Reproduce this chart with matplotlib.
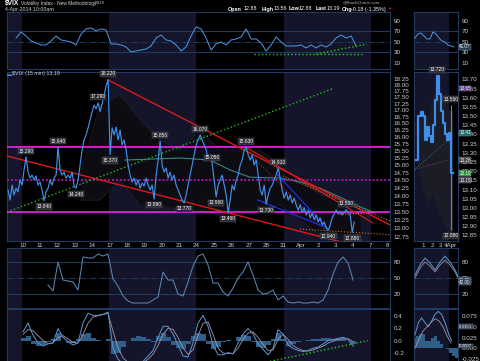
import numpy as np
import matplotlib
matplotlib.use('Agg')
import matplotlib.pyplot as plt
import matplotlib.transforms as mtransforms
from matplotlib.ticker import NullLocator

plt.rcParams['font.family'] = ['Liberation Sans', 'DejaVu Sans']

# ---------------- data ----------------
# 15 min closes, one sample every BAR_STEP trading days starting at BAR_START
BAR_START = -0.83
BAR_STEP = 0.115
price = [14.18, 13.86, 14.34, 14.02, 14.24, 14.12, 14.51, 14.34, 14.84, 15.29,
         14.77, 14.57, 14.67, 14.51, 14.64, 14.34, 14.44, 14.18, 13.84, 14.12,
         14.24, 14.51, 14.34, 14.57, 14.67, 15.64, 14.84, 14.67, 14.77, 14.57,
         14.67, 14.57, 14.77, 14.31, 14.24, 14.51, 15.01, 15.53, 15.89, 16.07,
         16.33, 16.63, 16.93, 17.20, 17.05, 17.29, 16.95, 17.25, 17.60, 17.95,
         18.22, 15.37, 16.33, 16.07, 16.36, 15.89, 16.25, 15.71, 15.89, 15.53,
         15.01, 14.67, 14.44, 14.57, 14.34, 14.51, 14.24, 14.41, 14.31, 14.57,
         14.34, 14.18, 14.34, 13.89, 14.67, 15.18, 15.85, 15.01, 14.77, 14.91,
         14.57, 14.77, 14.51, 14.67, 14.34, 14.18, 14.02, 13.86, 13.77, 14.02,
         14.34, 14.67, 15.01, 15.36, 15.71, 15.89, 16.07, 15.89, 15.71, 15.53,
         15.18, 15.36, 15.05, 14.51, 13.96, 14.34, 14.51, 14.67, 14.34, 14.02,
         13.46, 13.86, 14.34, 14.18, 14.51, 14.67, 15.01, 15.18, 15.53, 15.63,
         15.36, 15.18, 15.36, 15.01, 15.18, 14.67, 14.18, 14.02, 14.34, 13.73,
         14.02, 14.24, 14.34, 14.51, 14.67, 14.91, 14.57, 14.18, 13.92, 14.12,
         13.86, 14.02, 13.77, 13.92, 13.71, 13.55, 13.71, 13.49, 13.62, 13.40,
         13.55, 13.31, 13.46, 13.25, 13.40, 13.19, 13.31, 13.10, 13.19, 13.01,
         12.94, 13.10, 13.31, 13.43, 13.55, 13.43, 13.50, 13.40, 13.48, 13.56,
         13.45, 13.40, 12.88, 13.19]
# labelled highs (+1) / lows (-1)
ext_idx = [9, 18, 25, 34, 45, 50, 51, 73, 76, 88, 96, 102, 104, 110, 119, 129, 135, 160, 169, 172]
ext_dir = [1, -1, 1, -1, 1, 1, -1, -1, 1, -1, 1, 1, -1, -1, 1, -1, 1, -1, 1, -1]

# moving average and band (coarse)
ma_days = [5.89, 9.05, 10.78, 11.93, 13.08, 14.80, 15.95, 17.10, 18.25, 19.40, 20.26]
ma_vals = [15.18, 15.25, 15.18, 14.84, 14.60, 14.57, 14.44, 14.24, 13.95, 13.65, 13.46]
band_days = [3.30, 4.45, 5.60, 6.75, 7.90, 9.05, 10.20, 11.35, 12.50, 13.65, 14.80, 15.95, 17.10, 18.25, 19.40]
band_up = [14.67, 17.20, 17.60, 16.63, 15.89, 15.53, 16.25, 15.53, 15.53, 15.53, 15.01, 14.51, 14.02, 13.86, 13.71]
band_lo = [13.86, 13.86, 14.51, 13.71, 13.71, 13.55, 13.55, 13.40, 13.55, 13.55, 13.71, 13.25, 12.81, 12.81, 12.81]

# trend lines: (day0, price0, day1, price1, colour, style, width)
trend_lines = [
    (4.91, 18.21, 21.12, 13.10, '#e01818', '-', 1.0),
    (-0.89, 15.32, 20.55, 12.32, '#e01818', '-', 1.0),
    (12.84, 15.63, 20.14, 13.16, '#e01818', '-', 0.8),
    (13.36, 15.22, 17.96, 12.66, '#c01818', ':', 0.8),
    (14.63, 14.70, 17.50, 13.01, '#2030e0', '-', 0.9),
    (13.53, 13.86, 17.50, 13.01, '#2030e0', '-', 0.9),
    (14.97, 14.64, 21.12, 13.22, '#c87020', ':', 0.8),
    (15.95, 12.98, 21.12, 12.81, '#c87020', ':', 0.8),
    (18.25, 13.43, 20.09, 13.46, '#b0b0b0', ':', 0.7),
    (-0.89, 13.49, 17.79, 17.84, '#20c020', ':', 1.0),
]
magenta_solid = [15.62, 13.50]
magenta_dotted = [14.50]

day_labels = ['10', '11', '12', '13', '14', '17', '18', '19', '20', '21', '24',
              '25', '26', '27', '28', '31', 'Apr', '2', '3', '4', '7', '8']
week_shade = [(-1, 0), (5, 10), (15, 20)]
price_ticks = [12.75, 13.00, 13.25, 13.50, 13.75, 14.00, 14.25, 14.50, 14.75,
               15.00, 15.25, 15.50, 15.75, 16.00, 16.25, 16.50, 16.75, 17.00,
               17.25, 17.50, 17.75, 18.00, 18.25]

# upper RSI
RSI_START, RSI_STEP = -0.37, 0.2874
rsi = [57.6, 69.0, 61.4, 51.9, 48.1, 44.3, 44.3, 51.9, 61.4, 53.8, 51.9, 50.0,
       44.3, 65.2, 74.8, 76.7, 71.0, 74.8, 72.9, 46.2, 46.2, 44.3, 40.5, 31.0,
       32.9, 34.8, 36.7, 42.4, 57.6, 63.3, 53.8, 51.9, 44.3, 32.9, 40.5, 61.4,
       78.6, 74.8, 57.6, 34.8, 46.2, 50.0, 44.3, 53.8, 55.7, 59.5, 74.8, 55.7,
       55.7, 48.1, 32.9, 44.3, 59.5, 50.0, 42.4, 42.4, 42.4, 44.3, 38.6, 44.3,
       38.6, 44.3, 40.5, 46.2, 57.6, 63.3, 57.6, 61.4, 42.4]
rsi_green = [(13.3, 27, 19.6, 27), (16.87, 27, 19.8, 46)]
rsi_ticks = [10, 30, 50, 70, 90]

# lower oscillator
STO_START, STO_STEP = 1.466, 0.2874
sto = [36.5, 24.9, 80.9, 46.1, 44.2, 42.3, 26.8, 90.6, 88.7, 88.7, 96.4, 92.5,
       96.4, 48.1, 34.5, 15.2, 5.5, 1.6, 1.6, 1.6, 1.6, 7.5, 13.3, 61.6, 46.1,
       46.1, 19.1, 15.2, 42.3, 73.2, 92.5, 96.4, 75.1, 40.3, 40.3, 22.9, 15.2,
       30.7, 50.0, 61.6, 80.9, 55.8, 26.8, 19.1, 21.0, 26.8, 7.5, 15.2, 3.6,
       1.6, 3.6, 1.6, 1.6, 3.6, 1.6, 7.5, 26.8, 57.7, 80.9, 90.6, 79.0, 46.1]
sto_ticks = [20, 50, 80]

# MACD
MACD_START, MACD_STEP = 0.03, 0.2874
macd = [0.142, 0.283, 0.088, -0.035, -0.088, -0.053, -0.035, 0.195, 0.053, -0.018,
        -0.071, -0.035, 0.283, 0.442, 0.407, 0.407, 0.425, 0.460, -0.124, -0.301,
        -0.372, -0.389, -0.389, -0.389, -0.336, -0.248, -0.159, 0.053, 0.230, 0.230,
        0.106, -0.071, -0.248, -0.265, -0.035, 0.283, 0.407, 0.230, -0.071, -0.230,
        -0.230, -0.195, -0.212, -0.035, 0.106, 0.195, 0.106, -0.053, -0.142, -0.230,
        -0.124, 0.177, 0.106, -0.071, -0.124, -0.159, -0.177, -0.159, -0.124, -0.106,
        -0.053, 0.0, 0.018, 0.035, 0.053, 0.018, -0.088]
macd_sig = [0.10, 0.18, 0.16, 0.08, 0.0, -0.05, -0.04, 0.05, 0.08, 0.03,
            -0.03, -0.04, 0.10, 0.28, 0.38, 0.40, 0.42, 0.44, 0.15, -0.12,
            -0.28, -0.35, -0.38, -0.39, -0.36, -0.30, -0.22, -0.08, 0.10, 0.20,
            0.18, 0.05, -0.12, -0.22, -0.15, 0.08, 0.28, 0.30, 0.10, -0.12,
            -0.20, -0.21, -0.21, -0.12, 0.02, 0.12, 0.14, 0.05, -0.06, -0.16,
            -0.15, 0.02, 0.10, 0.02, -0.08, -0.13, -0.16, -0.17, -0.15, -0.12,
            -0.09, -0.04, -0.01, 0.02, 0.03, 0.03, -0.02]
macd_hist = [0.04, 0.08, -0.05, -0.09, -0.07, -0.02, 0.02, 0.12, 0.0, -0.04,
             -0.04, 0.02, 0.11, 0.12, 0.04, 0.01, 0.0, 0.02, -0.22, -0.20,
             -0.10, 0.0, 0.05, 0.07, 0.06, 0.03, -0.03, 0.08, 0.13, 0.06,
             -0.07, -0.12, -0.13, -0.05, 0.08, 0.12, 0.10, -0.05, -0.13, -0.10,
             -0.03, 0.01, -0.01, 0.06, 0.09, 0.07, -0.03, -0.10, -0.12, -0.07,
             0.02, 0.12, 0.03, -0.08, -0.06, -0.03, -0.01, 0.01, 0.02, 0.03,
             0.04, 0.04, 0.03, 0.03, 0.03, -0.01, -0.05]
macd_green = (14.22, -0.336, 19.86, 0.0)
macd_ticks = [-0.4, -0.2, 0.0, 0.2, 0.4]

# right-hand zoom panels (x in days, Apr 1 = 1)
mini_days = [0.22, 0.44, 0.56, 0.78, 1.0, 1.22, 1.44, 1.67, 1.89, 2.11,
             2.33, 2.56, 2.78, 3.0, 3.22, 3.44, 3.67, 3.89, 4.11, 4.33]
mini_px = [13.26, 13.50, 13.50, 13.52, 13.50, 13.37, 13.44, 13.39, 13.36, 13.45,
           13.59, 13.72, 13.62, 13.53, 13.46, 13.40, 13.37, 13.41, 13.19, 13.19]
mini_last_hi, mini_last_lo = 13.56, 12.88
mini_band_days = [0.3, 1.0, 1.6, 2.0, 2.6, 3.0, 3.6, 4.3]
mini_band_up = [13.50, 13.55, 13.50, 13.60, 13.66, 13.62, 13.55, 13.52]
mini_band_lo = [13.25, 13.10, 13.02, 13.08, 13.00, 12.95, 12.88, 12.84]
mini_px_ticks = [12.85, 12.90, 12.95, 13.00, 13.05, 13.10, 13.15, 13.20, 13.25,
                 13.30, 13.35, 13.40, 13.45, 13.50, 13.55, 13.60, 13.65, 13.70]
mini_px_boxes = [(13.65, '#5a3a80'), (13.41, '#206868'), (13.26, '#4a3a4a'),
                 (13.19, '#1f8f2f'), (13.15, '#3a3a4a')]
mini_rsi = [57.6, 65.2, 67.1, 61.4, 55.7, 55.7, 69.0, 65.2, 57.6, 51.9, 50.0, 44.3, 42.4, 40.5]
mini_rsi_box = 41.07
mini_sto_a = [55.8, 75.0, 88.7, 79.0, 65.5, 81.0, 92.5, 81.0, 65.5, 46.0]
mini_sto_b = [50.0, 69.0, 81.0, 73.0, 61.6, 75.0, 84.8, 75.0, 61.6, 42.0]
mini_macd = [0.031, 0.060, 0.071, 0.060, 0.050, 0.064, 0.079, 0.086, 0.079, 0.060, 0.036, 0.017]
mini_sig = [0.0, 0.021, 0.040, 0.050, 0.060, 0.069, 0.064, 0.050, 0.029, 0.012]
mini_hist = [0.024, 0.029, 0.033, 0.033, 0.017, 0.017, 0.024, 0.029, 0.017, 0.010,
             0.0, -0.003, -0.012, -0.019, -0.024]
mini_macd_ticks = [-0.025, 0.0, 0.025, 0.05, 0.075]
mini_macd_boxes = [(0.05, '0.0361'), (0.005, '0.0007')]

# ---------------- styling ----------------
W, H = 480, 361
BG = '#000000'
SHADE = '#14142a'
FRAME = '#1f3a5e'
TXT = '#cfcfcf'
BLUE = '#3f8fea'
FS = 4.5

fig = plt.figure(figsize=(W / 100, H / 100), dpi=100, facecolor=BG)


def panel(x0, y0, x1, y1):
    ax = fig.add_axes([x0 / W, 1 - y1 / H, (x1 - x0) / W, (y1 - y0) / H])
    ax.set_facecolor(BG)
    for s in ax.spines.values():
        s.set_color(FRAME)
        s.set_linewidth(0.8)
    ax.yaxis.tick_right()
    ax.tick_params(colors=TXT, labelsize=FS, length=0, pad=2.5)
    ax.set_xticks([])
    return ax


def box_label(ax, val, txt, fc, fs=3.3):
    tr = mtransforms.blended_transform_factory(ax.transAxes, ax.transData)
    ax.text(1.03, val, txt, color='white', fontsize=fs, va='center', ha='left',
            transform=tr, zorder=8,
            bbox=dict(boxstyle='square,pad=0.1', fc=fc, ec='#9a9aa8', lw=0.3))


LEFT_X = (-0.89, 21.12)
MINI_X = (0.0, 4.89)

ax_rsi = panel(7, 12, 390, 69)
ax_px = panel(7, 72, 390, 241)
ax_sto = panel(7, 248, 390, 308)
ax_mac = panel(7, 309, 390, 366)
ax_rsi2 = panel(414, 12, 458, 69)
ax_px2 = panel(414, 72, 458, 241)
ax_sto2 = panel(414, 248, 458, 308)
ax_mac2 = panel(414, 309, 458, 366)

for ax in (ax_rsi, ax_px, ax_sto, ax_mac):
    ax.set_xlim(*LEFT_X)
    for a, b in week_shade:
        ax.axvspan(a, b, color=SHADE, lw=0, zorder=0)
for ax in (ax_rsi2, ax_px2, ax_sto2, ax_mac2):
    ax.set_xlim(*MINI_X)
    ax.axvspan(0, 3.9, color=SHADE, lw=0, zorder=0)

# ---------- upper RSI ----------
for ax in (ax_rsi, ax_rsi2):
    ax.set_ylim(-1.4, 107)
    ax.set_yticks(rsi_ticks)
    ax.axhline(70, color=FRAME, lw=0.8, zorder=1)
    ax.axhline(30, color=FRAME, lw=0.8, zorder=1)
    ax.axhline(50, color=FRAME, lw=0.7, ls='-.', zorder=1)
t_rsi = RSI_START + RSI_STEP * np.arange(len(rsi))
ax_rsi.plot(t_rsi, rsi, color='#4a92d8', lw=0.75, zorder=3)
for a, v0, b, v1 in rsi_green:
    ax_rsi.plot([a, b], [v0, v1], color='#22cc22', lw=1.0, ls=':', zorder=4)
t_mr = 0.11 + 0.333 * np.arange(len(mini_rsi))
ax_rsi2.plot(t_mr, mini_rsi, color='#4a92d8', lw=0.75, zorder=3)
box_label(ax_rsi2, mini_rsi[-1], f'{mini_rsi_box:.2f}', '#23384f')

# ---------- price panel ----------
ax_px.set_yscale('log')
ax_px.set_ylim(12.63, 18.54)
ax_px.set_yticks(price_ticks)
ax_px.set_yticklabels([f'{v:.2f}' for v in price_ticks])
ax_px.yaxis.set_minor_locator(NullLocator())
ax_px.set_xticks(range(len(day_labels)))
ax_px.set_xticklabels(day_labels)
ax_px.tick_params(axis='x', labelsize=FS, pad=1.5, colors=TXT)

ax_px.fill_between(band_days, band_lo, band_up, color='#0c0c12', lw=0, zorder=1)
ax_px.plot(band_days, band_up, color='#22222a', lw=0.5, zorder=1)
ax_px.plot(band_days, band_lo, color='#22222a', lw=0.5, zorder=1)
ax_px.plot(ma_days, ma_vals, color='#2f8a8a', lw=0.8, zorder=2)
for lvl in magenta_solid:
    ax_px.axhline(lvl, color='#e21ee2', lw=1.3, zorder=3)
for lvl in magenta_dotted:
    ax_px.axhline(lvl, color='#a018a8', lw=1.4, ls=(0, (1, 1)), zorder=3)

t_px = BAR_START + BAR_STEP * np.arange(len(price))
ax_px.plot(t_px, price, color=BLUE, lw=0.85, zorder=5)

for d0, p0, d1, p1, c, ls, lw in trend_lines:
    ax_px.plot([d0, d1], [p0, p1], color=c, ls=ls, lw=lw, zorder=4)

for i, d in zip(ext_idx, ext_dir):
    ax_px.annotate(f'{price[i]:.3f}', (t_px[i], price[i]), xytext=(0, 4.2 * d),
                   textcoords='offset points', ha='center', va='center',
                   fontsize=3.5, color='white', zorder=7,
                   bbox=dict(boxstyle='square,pad=0.15', fc='#2c2c34', ec='#5a5a66', lw=0.3))

fig.text(7 / W, 1 - 74 / H, '\u25ac', color=BLUE, fontsize=3.5, va='center', ha='left')
fig.text(12 / W, 1 - 74 / H, f'$VIX (15 min) {price[-1]:.2f}', color=TXT,
         fontsize=3.8, va='center', ha='left')

# mini price
ax_px2.set_ylim(12.82, 13.74)
ax_px2.set_yticks(mini_px_ticks)
ax_px2.set_yticklabels([f'{v:.2f}' for v in mini_px_ticks])
ax_px2.set_xticks([1, 2, 3, 4])
ax_px2.set_xticklabels(['1', '2', '3', '4Apr'])
ax_px2.tick_params(axis='x', labelsize=FS, pad=1.5, colors=TXT)
ax_px2.fill_between(mini_band_days, mini_band_lo, mini_band_up, color='#1c1c26', lw=0, zorder=1)
ax_px2.plot([0.1, 3.8], [13.21, 13.37], color='#2f8a8a', lw=0.6, ls=':', zorder=2)
ax_px2.plot([0.1, 3.8], [13.21, 13.26], color='#8a4a6a', lw=0.6, ls=':', zorder=2)
ax_px2.step(mini_days, mini_px, where='post', color=BLUE, lw=1.6, zorder=4)
ax_px2.vlines(mini_days[-2] + 0.05, mini_last_lo, mini_last_hi, color=BLUE, lw=0.8, zorder=4)
ax_px2.vlines(mini_days[11] + 0.05, mini_px[12], mini_px[11], color=BLUE, lw=0.6, zorder=4)
for val, d, dx in [(mini_px[11], 1, mini_days[11]), (mini_last_hi, 1, mini_days[-2]),
                   (mini_last_lo, -1, mini_days[-2])]:
    ax_px2.annotate(f'{val:.3f}', (dx, val), xytext=(0, 4.2 * d),
                    textcoords='offset points', ha='center', va='center',
                    fontsize=3.5, color='white', zorder=7,
                    bbox=dict(boxstyle='square,pad=0.15', fc='#2c2c34', ec='#5a5a66', lw=0.3))
for val, c in mini_px_boxes:
    box_label(ax_px2, val, f'{val:.2f}', c)

# ---------- lower oscillator ----------
for ax in (ax_sto, ax_sto2):
    ax.set_ylim(-8, 108)
    ax.set_yticks(sto_ticks)
    ax.axhline(80, color=FRAME, lw=0.8, zorder=1)
    ax.axhline(20, color=FRAME, lw=0.8, zorder=1)
    ax.axhline(50, color=FRAME, lw=0.7, ls='-.', zorder=1)
t_sto = STO_START + STO_STEP * np.arange(len(sto))
ax_sto.plot(t_sto, sto, color='#5a86b0', lw=0.75, zorder=3)
t_ms = 0.11 + 0.556 * np.arange(len(mini_sto_a))
ax_sto2.plot(t_ms, mini_sto_a, color='#5a90c8', lw=0.75, zorder=3)
ax_sto2.plot(t_ms, mini_sto_b, color='#a08aa0', lw=0.6, zorder=3)
for val in (mini_sto_a[-1], mini_sto_b[-1]):
    box_label(ax_sto2, val, f'{val:.2f}', '#2a3a4e')

# ---------- MACD ----------
ax_mac.set_ylim(-0.41, 0.51)
ax_mac.set_yticks(macd_ticks)
ax_mac.set_yticklabels([f'{v:.1f}' for v in macd_ticks])
t_mac = MACD_START + MACD_STEP * np.arange(len(macd))
ax_mac.bar(t_mac, macd_hist, width=MACD_STEP, color='#2f5f88', lw=0, zorder=2)
ax_mac.plot(t_mac, macd_sig, color='#a898a8', lw=0.6, zorder=3)
ax_mac.plot(t_mac, macd, color='#5a90c8', lw=0.75, zorder=4)
ax_mac.plot([macd_green[0], macd_green[2]], [macd_green[1], macd_green[3]],
            color='#22cc22', lw=1.0, ls=':', zorder=5)

ax_mac2.set_ylim(-0.0417, 0.0917)
ax_mac2.set_yticks(mini_macd_ticks)
ax_mac2.set_yticklabels([f'{v:.3f}' for v in mini_macd_ticks])
t_mh = 0.11 + 0.333 * np.arange(len(mini_hist))
ax_mac2.bar(t_mh, mini_hist, width=0.333, color='#2f5f88', lw=0, zorder=2)
ax_mac2.plot(0.11 + 0.445 * np.arange(len(mini_sig)), mini_sig, color='#a898a8', lw=0.6, zorder=3)
ax_mac2.plot(0.11 + 0.37 * np.arange(len(mini_macd)), mini_macd, color='#5a90c8', lw=0.75, zorder=4)
for val, txt in mini_macd_boxes:
    box_label(ax_mac2, val, txt, '#2a3a4e', fs=3.2)

# ---------- header ----------
def htext(x, y, s, **kw):
    kw.setdefault('color', TXT)
    kw.setdefault('fontsize', 4.0)
    fig.text(x / W, 1 - y / H, s, va='center', ha='left', **kw)


htext(5, 3.5, '$VIX', color='white', fontsize=4.8, weight='bold')
htext(21, 3.5, 'Volatility Index - New Methodology', fontsize=3.5)
htext(95, 3.5, 'INDX', fontsize=3.0)
htext(5, 10, '4-Apr-2014 10:00am', fontsize=3.8)
htext(343, 2.5, '@StockCharts.com', fontsize=3.2, color='#b0b0b0')
for x, s, bold in [(228, 'Open', True), (244, '12.88', False), (262, 'High', True),
                   (274, '13.56', False), (289, 'Low', True), (299, '12.88', False),
                   (316, 'Last', True), (327, '13.19', False), (342, 'Chg', True),
                   (351, '-0.18 (-1.35%)', False)]:
    htext(x, 9, s, color='white', fontsize=3.9, weight='bold' if bold else 'normal')
htext(387, 9, '\u25bc', color='#e02020', fontsize=3.2)

fig.savefig('out.png', dpi=100, facecolor=BG)
